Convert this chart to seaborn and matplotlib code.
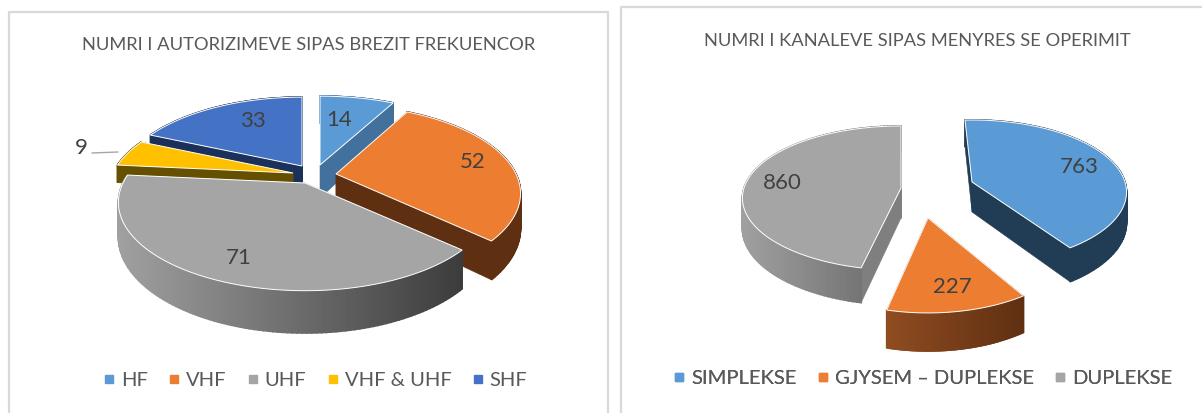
import numpy as np
import matplotlib
matplotlib.use('Agg')
import matplotlib.pyplot as plt
from matplotlib.colors import to_rgb
from matplotlib.lines import Line2D
import seaborn as sns

# chart values
band_labels = ['HF', 'VHF', 'UHF', 'VHF & UHF', 'SHF']
band_values = [14, 52, 71, 9, 33]
mode_labels = ['SIMPLEKSE', 'GJYSEM – DUPLEKSE', 'DUPLEKSE']
mode_values = [763, 227, 860]

title_left = 'NUMRI I AUTORIZIMEVE SIPAS BREZIT FREKUENCOR'
title_right = 'NUMRI I KANALEVE SIPAS MENYRES SE OPERIMIT'

FONT = 'Lato'
TEXT_GREY = '#595959'
LABEL_GREY = '#404040'

sns.set_theme(style='white')
plt.rcParams['font.family'] = [FONT, 'DejaVu Sans']

band_colors = sns.color_palette(['#5b9bd5', '#ed7d31', '#a5a5a5', '#ffc000', '#4472c4'])
mode_colors = sns.color_palette(['#5b9bd5', '#ed7d31', '#a5a5a5'])


def project(t, apex, look):
    # t in radians clockwise from the top of the disc, perspective on the depth axis
    t = t + np.radians(look.get('rot', 0))
    x, y = np.sin(t), np.cos(t)
    s = 1 / (1 + look['k'] * y)
    return apex[0] + look['b'] * x * s, apex[1] - look['a'] * y * s, s


def wall(ax, xs, ys, color):
    ax.fill(xs, ys, color=color, lw=1.2, zorder=2)


def draw_slice(ax, t0, t1, apex, color, side, grad, look):
    ts = np.linspace(t0, t1, 120)
    xs, ys, ss = project(ts, apex, look)
    height = look['h']

    # radial walls first, the rim and top go over them
    for i in (0, -1):
        ax.fill([apex[0], xs[i], xs[i], apex[0]],
                [apex[1], ys[i], ys[i] + height * ss[i], apex[1] + height],
                color=side, lw=0.4, zorder=2)

    # rim, shaded across its width
    left, right = np.array(to_rgb(grad[0])), np.array(to_rgb(grad[1]))
    span = max(xs.max() - xs.min(), 1)
    for i in range(len(ts) - 1):
        f = (0.5 * (xs[i] + xs[i + 1]) - xs.min()) / span
        wall(ax, [xs[i], xs[i + 1], xs[i + 1], xs[i]],
             [ys[i], ys[i + 1], ys[i + 1] + height * ss[i + 1], ys[i] + height * ss[i]],
             tuple(left + (right - left) * f))

    ax.fill(np.r_[apex[0], xs], np.r_[apex[1], ys], facecolor=color,
            edgecolor='white', lw=0.7, zorder=2)


def draw_pie(ax, values, colors, center, offsets, looks, sides, grads, order):
    values = np.asarray(values, dtype=float)
    edges = np.radians(np.r_[0, np.cumsum(values)] / values.sum() * 360)
    for i in order:
        apex = (center[0] + offsets[i][0], center[1] + offsets[i][1])
        draw_slice(ax, edges[i], edges[i + 1], apex, colors[i], sides[i], grads[i], looks[i])


def add_legend(ax, labels, colors, x, y, spacing, size):
    handles = [Line2D([], [], ls='', marker='s', ms=5.5, color=c) for c in colors]
    leg = ax.legend(handles, labels, loc='center', bbox_to_anchor=(x, y), bbox_transform=ax.transData,
                    ncol=len(labels), frameon=False, fontsize=size, labelcolor=TEXT_GREY,
                    columnspacing=spacing, handletextpad=0.2, handlelength=0.8, borderpad=0)
    ax.add_artist(leg)


fig = plt.figure(figsize=(12.02, 4.13), dpi=100)
ax = fig.add_axes([0, 0, 1, 1])
ax.set_xlim(0, 1202)
ax.set_ylim(413, 0)
ax.axis('off')

# chart frames, cut off by the screenshot at the bottom
ax.plot([9, 9, 608, 608], [413, 12, 12, 413], color='#d9d9d9', lw=1.6, zorder=1)
ax.plot([621, 621, 1202], [413, 7, 7], color='#d9d9d9', lw=1.6, zorder=1)

# left pie
draw_pie(ax, band_values, band_colors, (313, 175),
         [(7, -10), (23, -1), (-8, 8), (-20, -2), (-11, -9)],
         [{'a': 84, 'b': 185, 'k': 0.22, 'h': 33},
          {'a': 84, 'b': 180, 'k': 0.22, 'h': 33},
          {'a': 84, 'b': 182, 'k': 0.22, 'h': 33},
          {'a': 84, 'b': 180, 'k': 0.22, 'h': 18},
          {'a': 84, 'b': 180, 'k': 0.22, 'h': 18}],
         ['#41719c', '#5f2f12', '#7a7a7a', '#655000', '#1c3159'],
         [('#41719c', '#41719c'), ('#5f2f12', '#5f2f12'), ('#a0a0a0', '#3c3c3c'),
          ('#655000', '#655000'), ('#1c3159', '#1c3159')],
         [4, 3, 0, 1, 2])

# right pie
draw_pie(ax, mode_values, mode_colors, (937, 188),
         [(35, -6), (-9, 30), (-36, 0)],
         [{'a': 70.7, 'b': 153, 'k': 0.14, 'h': 30, 'rot': -3},
          {'a': 75, 'b': 150, 'k': 0.21, 'h': 30},
          {'a': 70.7, 'b': 157, 'k': 0.14, 'h': 30}],
         ['#213c55', '#5f2f12', '#7f7f7f'],
         [('#213c55', '#213c55'), ('#8f4c20', '#5f2f12'), ('#a0a0a0', '#666666')],
         [2, 0, 1])

# titles
ax.text(309, 45, title_left, ha='center', va='center', fontsize=13.2, color=TEXT_GREY)
ax.text(917, 41, title_right, ha='center', va='center', fontsize=13.2, color=TEXT_GREY)

# data labels
for val, x, y in zip(band_values, [339, 473, 239, 81, 253], [120, 162, 258, 148, 121]):
    ax.text(x, y, str(val), ha='center', va='center', fontsize=16, color=LABEL_GREY, zorder=4)
ax.plot([92, 118], [153, 152], color='#a6a6a6', lw=1, zorder=3)
for val, x, y in zip(mode_values, [1079, 952, 782], [167, 287, 183]):
    ax.text(x, y, str(val), ha='center', va='center', fontsize=16, color=LABEL_GREY, zorder=4)

add_legend(ax, band_labels, band_colors, 314, 380, 0.9, 14.5)
add_legend(ax, mode_labels, mode_colors, 922, 378, 0.9, 14.5)

fig.savefig('out.png', dpi=100)
